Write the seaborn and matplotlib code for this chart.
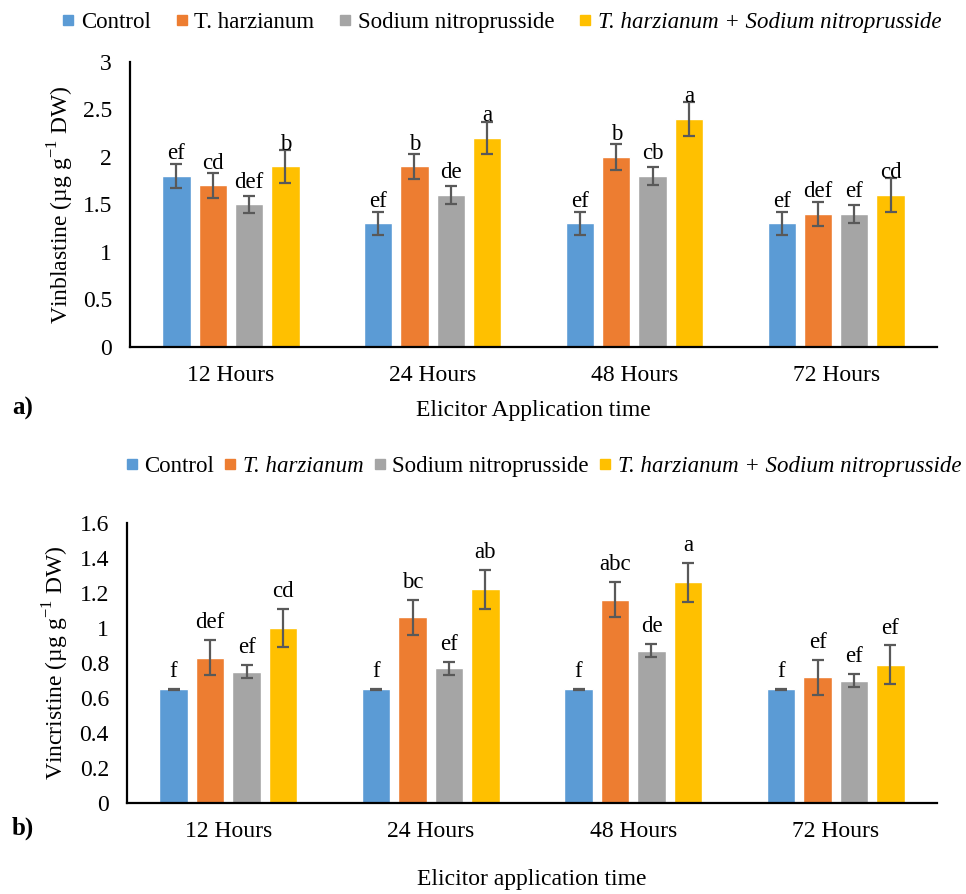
import numpy as np
import pandas as pd
import matplotlib
matplotlib.use("Agg")
import matplotlib.pyplot as plt
from matplotlib.lines import Line2D
from matplotlib.ticker import FuncFormatter
import seaborn as sns

# ---- data -------------------------------------------------------------
times = ["12 Hours", "24 Hours", "48 Hours", "72 Hours"]
treatments = ["Control", "T. harzianum", "Sodium nitroprusside",
              "T. harzianum + Sodium nitroprusside"]

# Vinblastine (µg g-1 DW): rows = treatment, columns = time
vinblastine_mean = [
    [1.80, 1.30, 1.30, 1.30],
    [1.70, 1.90, 2.00, 1.40],
    [1.50, 1.60, 1.80, 1.40],
    [1.90, 2.20, 2.40, 1.60],
]
vinblastine_err = [
    [0.13, 0.12, 0.12, 0.12],
    [0.13, 0.13, 0.135, 0.13],
    [0.09, 0.09, 0.09, 0.09],
    [0.17, 0.17, 0.175, 0.175],
]
vinblastine_letters = [
    ["ef", "ef", "ef", "ef"],
    ["cd", "b", "b", "def"],
    ["def", "de", "cb", "ef"],
    ["b", "a", "a", "cd"],
]

# Vincristine (µg g-1 DW)
vincristine_mean = [
    [0.65, 0.65, 0.65, 0.65],
    [0.83, 1.06, 1.16, 0.72],
    [0.75, 0.77, 0.87, 0.70],
    [1.00, 1.22, 1.26, 0.79],
]
vincristine_err = [
    [0.002, 0.002, 0.002, 0.002],
    [0.10, 0.10, 0.10, 0.10],
    [0.037, 0.036, 0.036, 0.037],
    [0.11, 0.11, 0.11, 0.11],
]
vincristine_letters = [
    ["f", "f", "f", "f"],
    ["def", "bc", "abc", "ef"],
    ["ef", "ef", "de", "ef"],
    ["cd", "ab", "a", "ef"],
]

colors = ["#5B9BD5", "#ED7D31", "#A5A5A5", "#FFC000"]

# ---- style ------------------------------------------------------------
sns.set_theme(style="white")
plt.rcParams["font.family"] = ["Liberation Serif", "DejaVu Serif"]
plt.rcParams["mathtext.fontset"] = "custom"
plt.rcParams["mathtext.rm"] = "Liberation Serif"
plt.rcParams["text.color"] = "black"
plt.rcParams["axes.labelcolor"] = "black"
plt.rcParams["xtick.color"] = "black"
plt.rcParams["ytick.color"] = "black"

TICK_FS = 17
LABEL_FS = 17
LETTER_FS = 16.5
LEGEND_FS = 16.5

fig = plt.figure(figsize=(9.66, 8.94), dpi=100)
ax_top = fig.add_axes([0.1346, 0.6119, 0.8354, 0.3188])
ax_bot = fig.add_axes([0.1315, 0.1014, 0.8385, 0.3139])


def to_frame(mean, err, letters):
    rows = []
    for i, tr in enumerate(treatments):
        for j, t in enumerate(times):
            rows.append({"time": t, "treatment": tr, "value": mean[i][j],
                         "err": err[i][j], "letter": letters[i][j]})
    return pd.DataFrame(rows)


def draw_panel(ax, df, ymax, ystep, ylabel, xlabel, letter_on_err, offset_pt,
               ylabel_x, xlabel_y):
    sns.barplot(data=df, x="time", y="value", hue="treatment",
                order=times, hue_order=treatments, palette=colors,
                errorbar=None, width=0.72, gap=0.22, legend=False,
                saturation=1, ax=ax)
    bar_groups = list(ax.containers)
    for i, cont in enumerate(bar_groups):
        sub = df[df["treatment"] == treatments[i]].set_index("time").loc[times]
        for bar, (_, row) in zip(cont, sub.iterrows()):
            xc = bar.get_x() + bar.get_width() / 2
            h = bar.get_height()
            ax.errorbar(xc, h, yerr=row["err"], fmt="none", ecolor="#595959",
                        elinewidth=1.6, capsize=4.2, capthick=1.6, zorder=3)
            yl = h + row["err"] if letter_on_err else h
            ax.annotate(row["letter"], (xc, yl), xytext=(0, offset_pt),
                        textcoords="offset points", ha="center",
                        va="baseline", fontsize=LETTER_FS, zorder=4)
    ax.set_ylim(0, ymax)
    ax.set_xlim(-0.5, 3.5)
    ax.set_yticks(np.arange(0, ymax + 1e-9, ystep))
    ax.yaxis.set_major_formatter(FuncFormatter(lambda v, p: f"{v:g}"))
    ax.tick_params(axis="both", length=0, labelsize=TICK_FS)
    ax.tick_params(axis="y", pad=13)
    ax.tick_params(axis="x", pad=13)
    for s in ["top", "right"]:
        ax.spines[s].set_visible(False)
    for s in ["left", "bottom"]:
        ax.spines[s].set_color("black")
        ax.spines[s].set_linewidth(1.6)
    ax.set_ylabel(ylabel, fontsize=LABEL_FS)
    ax.set_xlabel(xlabel, fontsize=LABEL_FS)
    ax.yaxis.set_label_coords(ylabel_x, 0.5)
    ax.yaxis.label.set_va("center")
    ax.xaxis.set_label_coords(0.5, xlabel_y)
    ax.xaxis.label.set_va("center")
    ax.grid(False)


df_top = to_frame(vinblastine_mean, vinblastine_err, vinblastine_letters)
df_bot = to_frame(vincristine_mean, vincristine_err, vincristine_letters)

draw_panel(ax_top, df_top, 3.0, 0.5,
           "Vinblastine (µg g$^{\\mathregular{-1}}$ DW)",
           "Elicitor Application time", False, 12.2, -0.0855, -0.2246)
draw_panel(ax_bot, df_bot, 1.6, 0.2,
           "Vincristine (µg g$^{\\mathregular{-1}}$ DW)",
           "Elicitor application time", True, 8.6, -0.088, -0.273)

# ---- legends ----------------------------------------------------------
handles = [Line2D([], [], marker="s", linestyle="none", markersize=6.5,
                  markerfacecolor=c, markeredgecolor=c) for c in colors]

leg1 = fig.legend(handles, treatments, loc="center", ncol=4, frameon=False,
                  bbox_to_anchor=(502 / 966, 1 - 22 / 894),
                  fontsize=LEGEND_FS, handlelength=0.5, handletextpad=0.3,
                  columnspacing=1.1, borderpad=0, borderaxespad=0)
leg1.get_texts()[3].set_style("italic")

leg2 = fig.legend(handles, treatments, loc="center right", ncol=4,
                  frameon=False, bbox_to_anchor=(961 / 966, 1 - 466 / 894),
                  fontsize=LEGEND_FS, handlelength=0.5, handletextpad=0.3,
                  columnspacing=0.45, borderpad=0, borderaxespad=0)
leg2.get_texts()[1].set_style("italic")
leg2.get_texts()[3].set_style("italic")

# ---- panel tags -------------------------------------------------------
fig.text(12 / 966, 1 - 408 / 894, "a)", fontsize=18, fontweight="bold",
         ha="left", va="center")
fig.text(12 / 966, 1 - 828 / 894, "b)", fontsize=18, fontweight="bold",
         ha="left", va="center")

fig.savefig("out.png", dpi=100)
